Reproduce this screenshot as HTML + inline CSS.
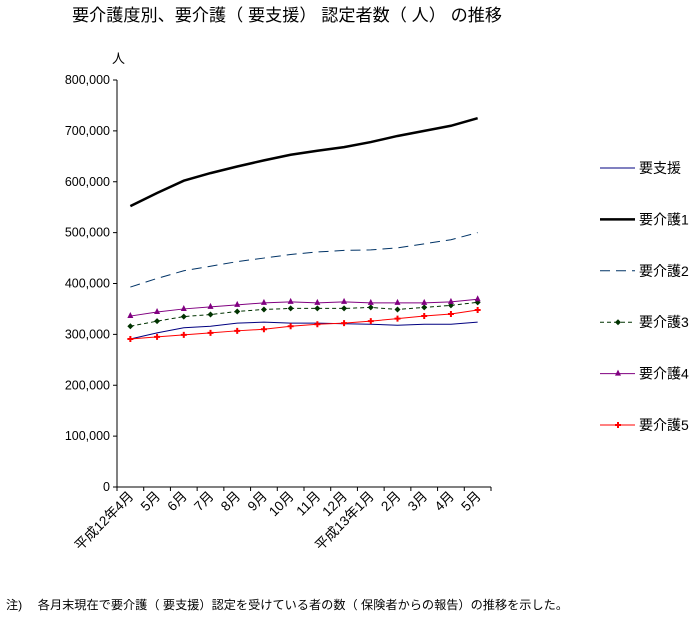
<!DOCTYPE html>
<html><head><meta charset="utf-8"><style>
body{margin:0;background:#fff;}
svg text{font-family:"Liberation Sans","Noto Sans CJK JP",sans-serif;}
</style></head><body>
<svg id="c" width="694" height="616" xmlns="http://www.w3.org/2000/svg">
<text x="72" y="21" font-size="17" textLength="430" lengthAdjust="spacingAndGlyphs">要介護度別、要介護（ 要支援） 認定者数（ 人） の推移</text>
<text x="112" y="63" font-size="13">人</text>
<text x="6" y="609" font-size="12" textLength="562" lengthAdjust="spacingAndGlyphs">注)　 各月末現在で要介護（ 要支援）認定を受けている者の数（ 保険者からの報告）の推移を示した。</text>
<g id="axes"></g><g id="series"></g><g id="legend"></g>
</svg>
<script>
const categories=["平成12年4月","5月","6月","7月","8月","9月","10月","11月","12月","平成13年1月","2月","3月","4月","5月"];
const yTicks=[0,100000,200000,300000,400000,500000,600000,700000,800000];
const shien=[291,303,313,316,322,324,322,322,321,320,318,320,320,324];
const kaigo1=[552,578,602,617,630,642,653,661,668,678,690,700,710,725];
const kaigo2=[393,410,425,434,443,450,457,462,465,466,470,478,486,500];
const kaigo3=[316,326,335,339,345,349,351,351,351,353,349,353,357,363];
const kaigo4=[336,344,350,354,358,362,364,362,364,362,362,362,364,369];
const kaigo5=[291,295,299,303,307,310,316,320,322,326,331,336,340,348];
const seriesNames=["要支援","要介護1","要介護2","要介護3","要介護4","要介護5"];
const NS="http://www.w3.org/2000/svg";
const x0=117,x1=491,y0=487,y1=80;
const band=(x1-x0)/categories.length;
const xs=i=>x0+band*(i+0.5);
const ys=v=>y0-(v/800000)*(y0-y1);
function mk(tag,attrs,parent){const e=document.createElementNS(NS,tag);for(const k in attrs)e.setAttribute(k,attrs[k]);parent.appendChild(e);return e;}
const ax=document.getElementById('axes');
let e=mk('line',{x1:x0,y1:y1,x2:x0,y2:y0,stroke:'#000'},ax);


e=mk('line',{x1:x0,y1:y0,x2:x1,y2:y0,stroke:'#000'},ax);


yTicks.forEach(v=>{const y=ys(v);
 mk('line',{x1:x0-4,y1:y,x2:x0,y2:y,stroke:'#000'},ax);
 const t=mk('text',{x:x0-7,y:y+4,'font-size':12.5,'text-anchor':'end'},ax);
 t.textContent=v.toLocaleString('en-US');
 
 
});
for(let i=0;i<=categories.length;i++){const x=x0+band*i;mk('line',{x1:x,y1:y0,x2:x,y2:y0+4,stroke:'#000'},ax);}
categories.forEach((c,i)=>{const x=xs(i)+4,y=y0+10;
 const t=mk('text',{x:x,y:y,'font-size':13.5,'text-anchor':'end',transform:`rotate(-45 ${x} ${y})`},ax);
 t.textContent=c;
 
 
});
const styles=[
 {d:shien,c:'#000080',w:1,dash:null,m:null},
 {d:kaigo1,c:'#000',w:2.5,dash:null,m:null},
 {d:kaigo2,c:'#003366',w:1,dash:'10 6',m:null},
 {d:kaigo3,c:'#003300',w:1,dash:'4 3',m:'diamond'},
 {d:kaigo4,c:'#800080',w:1,dash:null,m:'tri'},
 {d:kaigo5,c:'#ff0000',w:1,dash:null,m:'cross'}];
const sg=document.getElementById('series');
function marker(type,x,y,c,g){
 if(type==='diamond')mk('path',{d:`M${x} ${y-3}L${x+3} ${y}L${x} ${y+3}L${x-3} ${y}Z`,fill:c},g);
 if(type==='tri')mk('path',{d:`M${x} ${y-4}L${x+3} ${y+2}L${x-3} ${y+2}Z`,fill:c},g);
 if(type==='cross')mk('path',{d:`M${x-1} ${y-3}h2v2h2v2h-2v2h-2v-2h-2v-2h2Z`,fill:c},g);
}
styles.forEach((s,k)=>{
 const g=mk('g',{},sg);
 
 
 const pts=s.d.map((v,i)=>xs(i)+','+ys(v*1000)).join(' ');
 const p=mk('polyline',{points:pts,fill:'none',stroke:s.c,'stroke-width':s.w},g);
 if(s.dash)p.setAttribute('stroke-dasharray',s.dash);
 if(s.m)s.d.forEach((v,i)=>marker(s.m,xs(i),ys(v*1000),s.c,g));
});
const lg=document.getElementById('legend');
styles.forEach((s,k)=>{
 const y=168+k*51.4;
 const g=mk('g',{},lg);
 
 
 const l=mk('line',{x1:600,y1:y,x2:635,y2:y,stroke:s.c,'stroke-width':s.w},g);
 if(s.dash)l.setAttribute('stroke-dasharray',k===2?'10 6':'4 3');
 if(s.m)marker(s.m,618,y,s.c,g);
 const t=mk('text',{x:639,y:y+5,'font-size':14},g);
 t.textContent=seriesNames[k];
});
</script>
</body></html>
